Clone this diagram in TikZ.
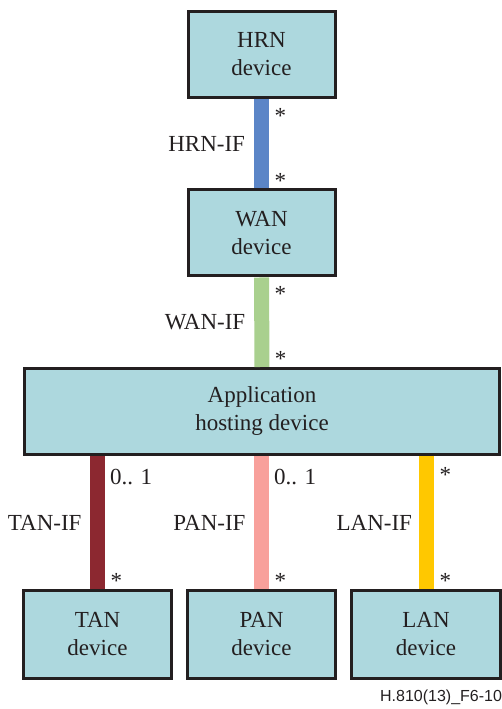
\documentclass[tikz,border=0pt]{standalone}
\usepackage{fontspec}
\setmainfont{Liberation Serif}
\newfontfamily\figidfont{Liberation Sans}
\usetikzlibrary{positioning}
\definecolor{boxfill}{RGB}{173,216,222}
\definecolor{boxline}{RGB}{35,31,32}
\definecolor{hrnblue}{RGB}{91,133,199}
\definecolor{wangreen}{RGB}{169,208,142}
\definecolor{tanred}{RGB}{140,40,48}
\definecolor{panpink}{RGB}{248,160,155}
\definecolor{lanyellow}{RGB}{255,200,0}
\begin{document}
\begin{tikzpicture}[x=1pt,y=1pt,every node/.style={font=\fontsize{23}{28}\selectfont, text=boxline},
    devbox/.style={draw=boxline, line width=3pt, fill=boxfill, minimum width=147pt, minimum height=86pt, align=center, inner sep=0pt},
    iflink/.style={line width=15pt},
    mult/.style={inner sep=0pt, outer sep=0pt}]
    \useasboundingbox (0,0) rectangle (502,709);
    \node[devbox] (hrn) at (261.5,654.5) {HRN\\device};
    \node[devbox] (wan) at (261.5,476) {WAN\\device};
    \node[devbox, minimum width=475pt] (app) at (262,297.5) {Application\\hosting device};
    \node[devbox, minimum width=148pt, minimum height=88pt] (tan) at (97.5,74.5) {TAN\\device};
    \node[devbox, minimum width=148pt, minimum height=88pt] (pan) at (261.5,74.5) {PAN\\device};
    \node[devbox, minimum width=149pt, minimum height=88pt] (lan) at (426,74.5) {LAN\\device};
    % interfaces
    \draw[iflink, hrnblue] (hrn) -- (wan)
        node[mult, midway, left=16.5pt] (hrnif) {HRN-IF}
        node[mult, pos=0, anchor=north west, xshift=13pt, yshift=-9pt] (hrnm1) {*}
        node[mult, pos=1, anchor=base west, xshift=13pt] (hrnm2) {*};
    \draw[iflink, wangreen] (wan) -- (app)
        node[mult, midway, left=16.5pt] (wanif) {WAN-IF}
        node[mult, pos=0, anchor=north west, xshift=13pt, yshift=-9pt] (wanm1) {*}
        node[mult, pos=1, anchor=base west, xshift=13pt] (wanm2) {*};
    \draw[iflink, tanred] (tan.north |- app.south) -- (tan)
        node[mult, midway, left=16pt] (tanif) {TAN-IF}
        node[mult, pos=0, anchor=north west, xshift=12.5pt, yshift=-13pt] (tanm1) {0.. 1}
        node[mult, pos=1, anchor=base west, xshift=13pt] (tanm2) {*};
    \draw[iflink, panpink] (pan.north |- app.south) -- (pan)
        node[mult, midway, left=16pt] (panif) {PAN-IF}
        node[mult, pos=0, anchor=north west, xshift=12.5pt, yshift=-13pt] (panm1) {0.. 1}
        node[mult, pos=1, anchor=base west, xshift=13pt] (panm2) {*};
    \draw[iflink, lanyellow] (lan.north |- app.south) -- (lan)
        node[mult, midway, left=14pt] (lanif) {LAN-IF}
        node[mult, pos=0, anchor=north west, xshift=13.5pt, yshift=-11pt] (lanm1) {*}
        node[mult, pos=1, anchor=base west, xshift=13.5pt] (lanm2) {*};
    \node[mult, anchor=base east, font=\figidfont\fontsize{16}{19}\selectfont] (figid) at (502,8) {H.810(13)\_F6-10};
\end{tikzpicture}
\end{document}
